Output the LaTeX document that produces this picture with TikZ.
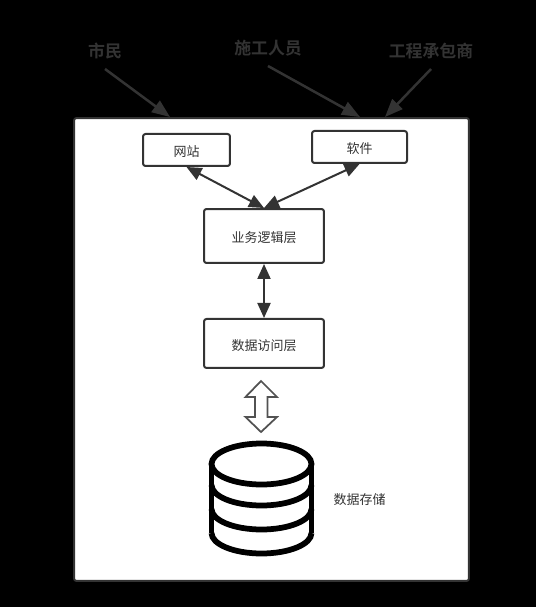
\documentclass[tikz,border=0pt]{standalone}
\usepackage{fontspec}
\usepackage{xcolor}
\setmainfont{Noto Sans CJK SC}
\newfontfamily\boldcjk{Noto Sans CJK SC Bold}
\usetikzlibrary{arrows.meta, positioning}
\definecolor{linegray}{HTML}{333333}

\begin{document}
\begin{tikzpicture}[
    x=0.02cm, y=-0.02cm,
    node distance=1.08cm,
    box/.style={draw=linegray, fill=white, rounded corners=0.05cm, line width=0.04cm, align=center, font=\fontsize{7.4}{9}\selectfont, text=linegray, inner sep=0pt, text height=7.8pt, text depth=0pt},
    actor/.style={font=\boldcjk\fontsize{9.6}{11}\selectfont, text=linegray, minimum height=0.76cm, inner sep=0pt, outer sep=0pt, text height=9.4pt, text depth=0.6pt},
    arrow/.style={-{Triangle[length=0.36cm, width=0.28cm]}, draw=linegray, fill=linegray, line width=0.05cm},
    biarrow/.style={{Triangle[length=0.3cm, width=0.26cm]}-{Triangle[length=0.3cm, width=0.26cm]}, draw=linegray, fill=linegray, line width=0.04cm},
    lbl/.style={font=\fontsize{7.4}{9}\selectfont, text=linegray, inner sep=0pt},
    barrel/.style={line width=0.115cm, black},
]
\useasboundingbox (0,0) rectangle (536,607);
\fill[black] (0,0) rectangle (536,607);

\node[box, minimum width=7.9cm, minimum height=9.26cm] (frame) at (271.5,349.5) {};
\node[actor] (citizen) at (105,50) {市民};
\node[actor] (builder) at (268,47) {施工人员};
\node[actor] (contractor) at (431,50) {工程承包商};
\coordinate (citizenin) at (170,117);
\coordinate (builderin) at (360,117);
\coordinate (contractorin) at (385,117);

\node[box, minimum width=1.74cm, minimum height=0.64cm] (site) at (186.5,150) {网站};
\node[box, minimum width=1.9cm, minimum height=0.64cm] (soft) at (359.5,147) {软件};
\node[box, minimum width=2.4cm, minimum height=1.08cm] (logic) at (264,236) {业务逻辑层};
\node[box, minimum width=2.4cm, minimum height=0.98cm, below=of logic] (access) {数据访问层};

\draw[arrow] (citizen.south) -- (citizenin);
\draw[arrow] (builder.south) -- (builderin);
\draw[arrow] (contractor.south) -- (contractorin);
\draw[biarrow] (site.south) -- (logic.north);
\draw[biarrow] (soft.south) -- (logic.north);
\draw[biarrow] (logic.south) -- (access.north);

% hollow double arrow
\draw[linegray!85, fill=white, line width=0.035cm] (261,381) -- (277,397) -- (267.5,397) -- (267.5,417) -- (277,417) -- (261,432) -- (245.5,417) -- (255,417) -- (255,397) -- (245.5,397) -- cycle;

% database
\draw[barrel] (261.5,464) ellipse [x radius=1cm, y radius=0.41cm];
\foreach \y in {485,509,533}
    \draw[barrel] (211.5,\y) arc [start angle=180, end angle=360, x radius=1cm, y radius=0.41cm];
\draw[barrel] (211.5,464) -- (211.5,533);
\draw[barrel] (311.5,464) -- (311.5,533);
\node[lbl] (storelbl) at (359.5,500) {数据存储};
\end{tikzpicture}
\end{document}
